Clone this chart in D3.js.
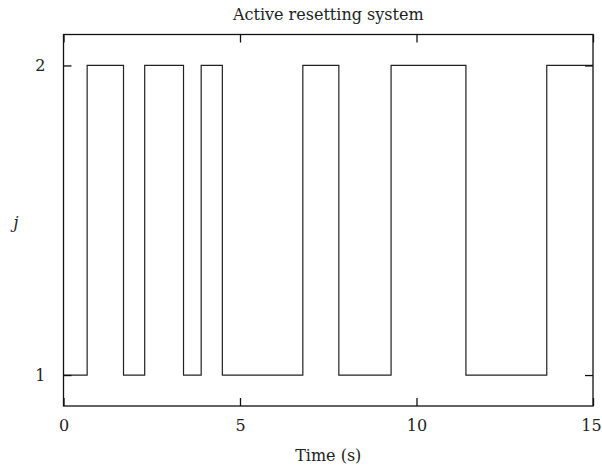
<html>
<head>
<script src="https://cdnjs.cloudflare.com/ajax/libs/d3/7.8.5/d3.min.js"></script>
<style>
  body { margin: 0; background: #fff; }
  text { font-family: "DejaVu Serif", serif; fill: #222; }
</style>
</head>
<body>
<div id="container"></div>
<script>
// switching instants (s) and the mode j held after each instant
var times = [0, 0.67, 1.7, 2.3, 3.4, 3.9, 4.5, 6.78, 7.8, 9.28, 11.4, 13.69, 15];
var modes = [1, 2, 1, 2, 1, 2, 1, 2, 1, 2, 1, 2, 2];
var xTicks = [0, 5, 10, 15];
var yTicks = [1, 2];

var w = 602, h = 470;
var mLeft = 63.5, mRight = 593, mTop = 34.5, mBottom = 406;
var tickLen = 8;

var svg = d3.select("#container").append("svg")
    .attr("width", w)
    .attr("height", h);

var x = d3.scaleLinear().domain([0, 15]).range([mLeft, mRight]);
var y = d3.scaleLinear().domain([0.9, 2.1]).range([mBottom, mTop]);

var data = times.map(function(t, i) { return {t: t, j: modes[i]}; });

// signal
var line = d3.line()
    .x(function(d) { return x(d.t); })
    .y(function(d) { return y(d.j); })
    .curve(d3.curveStepAfter);

svg.append("path")
    .datum(data)
    .attr("d", line)
    .attr("fill", "none")
    .attr("stroke", "#222")
    .attr("stroke-width", 1.2);

// axes: ticks inward on all four sides
var xAxis = svg.append("g")
    .attr("transform", "translate(0," + mBottom + ")")
    .call(d3.axisBottom(x).tickValues(xTicks).tickSizeInner(-tickLen).tickSizeOuter(0)
        .tickPadding(14).tickFormat(d3.format("d")));
svg.append("g")
    .attr("transform", "translate(0," + mTop + ")")
    .call(d3.axisTop(x).tickValues(xTicks).tickSizeInner(-tickLen).tickSizeOuter(0).tickFormat(""));
svg.append("g")
    .attr("transform", "translate(" + mLeft + ",0)")
    .call(d3.axisLeft(y).tickValues(yTicks).tickSizeInner(-tickLen).tickSizeOuter(0)
        .tickPadding(18).tickFormat(d3.format("d")));
svg.append("g")
    .attr("transform", "translate(" + mRight + ",0)")
    .call(d3.axisRight(y).tickValues(yTicks).tickSizeInner(-tickLen).tickSizeOuter(0).tickFormat(""));

svg.selectAll(".domain").remove();
svg.selectAll(".tick line").attr("stroke", "#111").attr("stroke-width", 1.3);
svg.selectAll(".tick text")
    .style("font-family", "DejaVu Serif, serif")
    .style("font-size", "16px")
    .attr("fill", "#222");

// keep the last label inside the page
xAxis.selectAll(".tick text")
    .filter(function(d) { return d === 15; })
    .attr("dx", -2);

// frame
svg.append("rect")
    .attr("x", mLeft).attr("y", mTop)
    .attr("width", mRight - mLeft).attr("height", mBottom - mTop)
    .attr("fill", "none")
    .attr("stroke", "#111")
    .attr("stroke-width", 1.3);

// labels
svg.append("text")
    .attr("x", (mLeft + mRight) / 2).attr("y", 20)
    .attr("text-anchor", "middle")
    .style("font-size", "16px")
    .text("Active resetting system");

svg.append("text")
    .attr("x", (mLeft + mRight) / 2).attr("y", 461)
    .attr("text-anchor", "middle")
    .style("font-size", "16px")
    .text("Time (s)");

svg.append("text")
    .attr("x", 16).attr("y", 228)
    .attr("text-anchor", "middle")
    .style("font-size", "16px")
    .style("font-style", "italic")
    .text("j");
</script>
</body>
</html>
